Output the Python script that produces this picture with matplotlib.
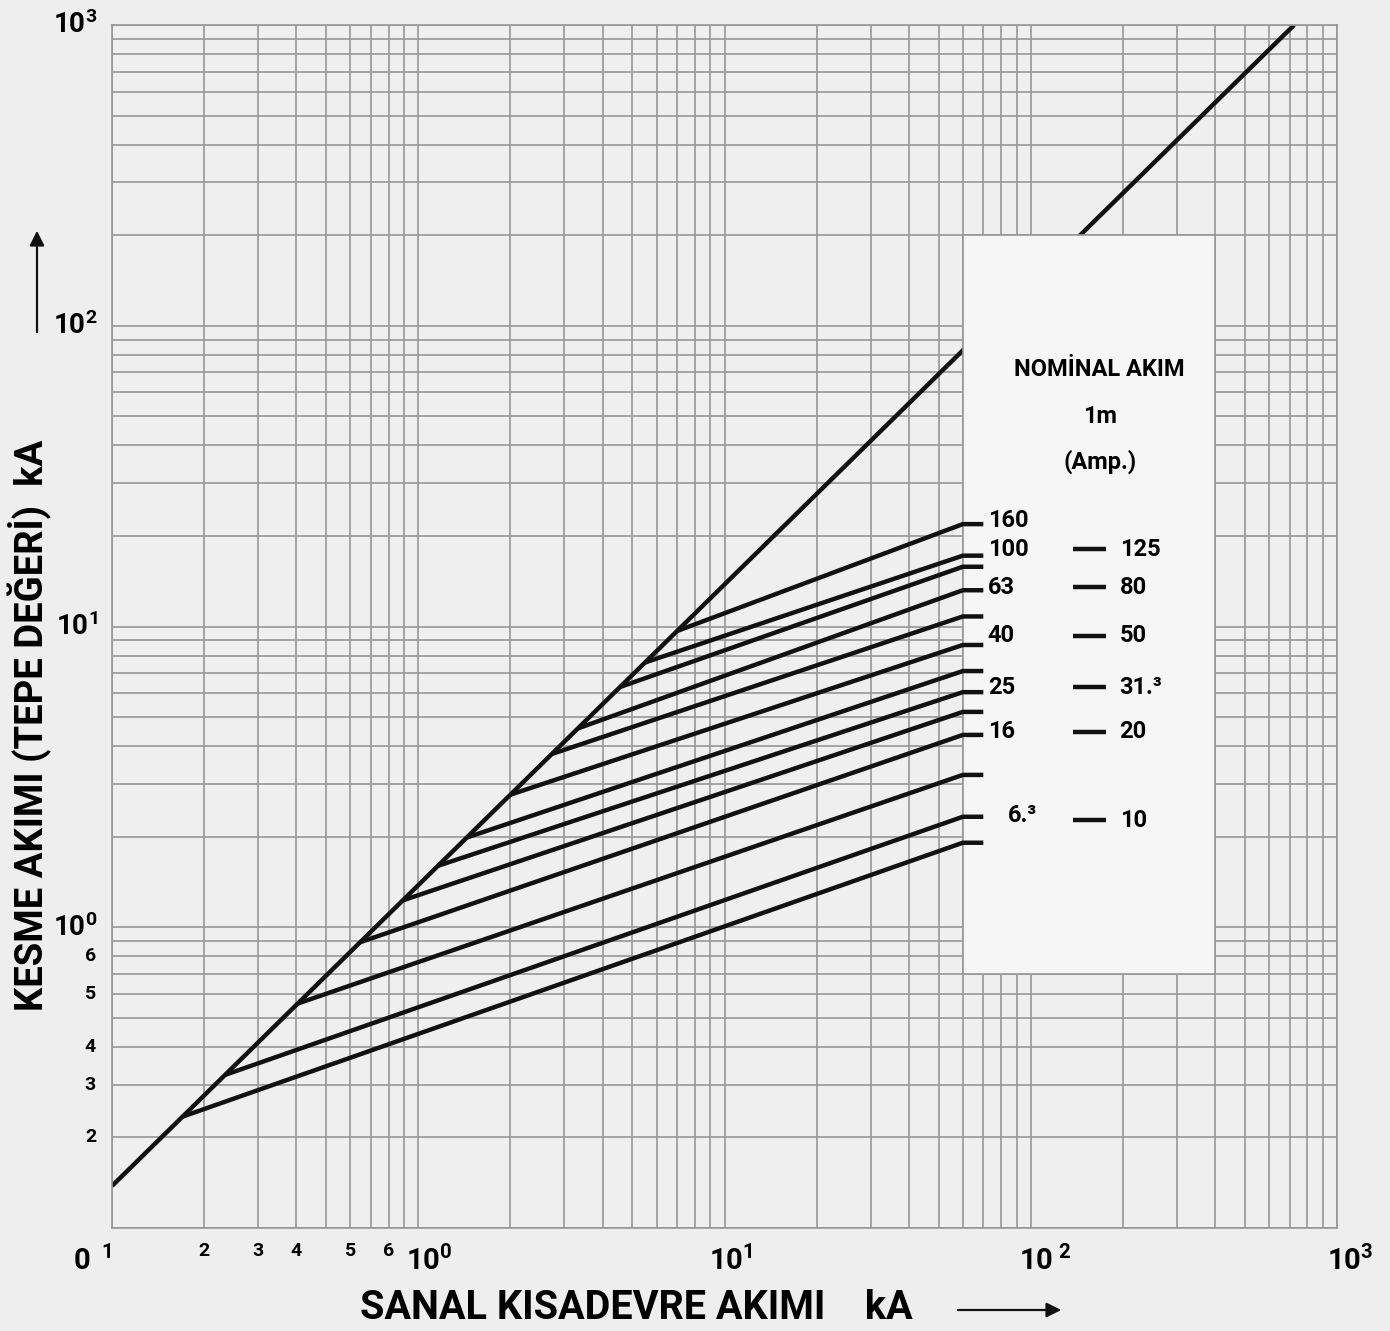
import numpy as np
import matplotlib
matplotlib.use('Agg')
from matplotlib import pyplot as plt
from matplotlib import ticker as ticker
from matplotlib.patches import Rectangle, FancyArrowPatch
import matplotlib.transforms as mtransforms

plt.rcParams['font.family'] = ['Roboto', 'DejaVu Sans']
plt.rcParams['font.weight'] = 'bold'
plt.rcParams['mathtext.fontset'] = 'custom'
plt.rcParams['mathtext.rm'] = 'Roboto:bold'
plt.rcParams['mathtext.it'] = 'Roboto:bold'
plt.rcParams['mathtext.bf'] = 'Roboto:bold'

# --- data -------------------------------------------------------------
# kesme akimi = k * sanal akim (no fuse)
k_diag = 1.38
diag_x = [0.1, 1000 / k_diag]

# fuse lines: knee on the diagonal, end value at 60 kA, flat stub to 70 kA
fuse_knee_x = [7.0, 5.5, 4.56, 3.32, 2.73, 2.0, 1.44, 1.16, 0.89, 0.646, 0.404, 0.234, 0.170]
fuse_end_y = [21.9, 17.2, 15.8, 13.2, 10.8, 8.68, 7.11, 6.05, 5.20, 4.36, 3.21, 2.33, 1.91]
end_x = [60, 70]

# legend box
box_x = [60, 400]
box_y = [0.7, 200]

col1_labels = ['160', '100', '63', '40', '25', '16', '6.³']
col1_x = [72.4, 72.4, 72.4, 72.4, 72.4, 72.4, 84]
col1_y = [22.6, 18.1, 13.5, 9.3, 6.29, 4.46, 2.36]
col2_labels = ['125', '80', '50', '31.³', '20', '10']
col2_y = [18.1, 13.5, 9.3, 6.29, 4.46, 2.27]
col2_dash_x = [137, 176]
col2_text_x = 195

# tick labels (placed as in the original sheet)
xlab_small = ['2', '3', '4', '5', '6']
xlab_small_x = [0.2, 0.3, 0.4, 0.6, 0.8]
xlab_big = [r'$10^{0}$', r'$10^{1}$', r'$10^{\ 2}$', r'$10^{3}$']
xlab_big_x = [0.91, 8.9, 91.6, 927]

ylab_small = ['6', '5', '4', '3', '2']
ylab_small_y = [0.8, 0.6, 0.4, 0.3, 0.2]
ylab_big = [r'$10^{3}$', r'$10^{2}$', r'$10^{1}$', r'$10^{0}$']
ylab_big_y = [1000, 100, 10, 1.0]

grid_col = '#979797'
line_col = '#111111'

fig = plt.figure(figsize=(13.9, 13.31), dpi=100)
fig.patch.set_facecolor('#eeeeee')
ax = fig.add_axes([112 / 1390, 103 / 1331, 1225 / 1390, 1203 / 1331])
ax.set_facecolor('#efefef')
ax.set_xscale('log')
ax.set_yscale('log')
ax.set_xlim(0.1, 1000)
ax.set_ylim(0.1, 1000)

# grid on every 1..9 of each decade
ax.xaxis.set_major_locator(ticker.NullLocator())
ax.yaxis.set_major_locator(ticker.NullLocator())
ax.xaxis.set_minor_locator(ticker.LogLocator(base=10, subs=np.arange(1, 10), numticks=50))
ax.yaxis.set_minor_locator(ticker.LogLocator(base=10, subs=np.arange(1, 10), numticks=50))
ax.xaxis.set_minor_formatter(ticker.NullFormatter())
ax.yaxis.set_minor_formatter(ticker.NullFormatter())
ax.tick_params(which='both', length=0)
ax.set_axisbelow(True)
ax.grid(which='minor', color=grid_col, lw=1.2)
for sp in ax.spines.values():
    sp.set_color(grid_col)
    sp.set_linewidth(1.2)

# diagonal (hidden by the box)
ax.plot(diag_x, [k_diag * v for v in diag_x], color=line_col, lw=3.2, zorder=1.5,
        solid_capstyle='butt')

ax.add_patch(Rectangle((box_x[0], box_y[0]), box_x[1] - box_x[0], box_y[1] - box_y[0],
                       facecolor='#f6f6f6', edgecolor=grid_col, lw=1.2, zorder=2))

for kx, ey in zip(fuse_knee_x, fuse_end_y):
    ax.plot([kx, end_x[0], end_x[1]], [k_diag * kx, ey, ey], color=line_col, lw=3.2,
            zorder=3, solid_capstyle='butt', solid_joinstyle='round')

# box texts
ax.text(168, 71.3, 'NOMİNAL AKIM', ha='center', va='center', fontsize=17, zorder=4)
ax.text(168, 49.8, '1m', ha='center', va='center', fontsize=17, zorder=4)
ax.text(168, 35.2, '(Amp.)', ha='center', va='center', fontsize=17, zorder=4)
for lab, x, y in zip(col1_labels, col1_x, col1_y):
    ax.text(x, y, lab, ha='left', va='center', fontsize=17, zorder=4)
for lab, y in zip(col2_labels, col2_y):
    ax.plot(col2_dash_x, [y, y], color=line_col, lw=3.2, zorder=3, solid_capstyle='butt')
    ax.text(col2_text_x, y, lab, ha='left', va='center', fontsize=17, zorder=4)

# tick labels
tx = mtransforms.blended_transform_factory(ax.transData, ax.transAxes)
ty = mtransforms.blended_transform_factory(ax.transAxes, ax.transData)
for lab, x in zip(xlab_small, xlab_small_x):
    ax.text(x, -0.023, lab, transform=tx, ha='center', va='baseline', fontsize=14)
for lab, x in zip(xlab_big, xlab_big_x):
    ax.text(x, -0.035, lab, transform=tx, ha='left', va='baseline', fontsize=21)
ax.text(0.1, -0.035, r'$0^{\ \ 1}$', transform=tx, ha='right', va='baseline', fontsize=21)
for lab, y in zip(ylab_small, ylab_small_y):
    ax.text(-0.013, y, lab, transform=ty, ha='right', va='center', fontsize=14)
for lab, y in zip(ylab_big, ylab_big_y):
    ax.text(-0.012, y, lab, transform=ty, ha='right', va='center', fontsize=20)

# axis titles
fig.text(30 / 1390, 1 - 725 / 1331, 'KESME AKIMI (TEPE DEĞERİ)  kA', rotation=90,
         ha='center', va='center', fontsize=27.5)
fig.text(636 / 1390, 1 - 1308 / 1331, 'SANAL KISADEVRE AKIMI    kA',
         ha='center', va='center', fontsize=28.5)

# arrows
fig.add_artist(FancyArrowPatch(
    (37 / 1390, 1 - 335 / 1331), (37 / 1390, 1 - 228 / 1331), transform=fig.transFigure,
    arrowstyle='-|>', mutation_scale=22, color=line_col, lw=1.6))
fig.add_artist(FancyArrowPatch(
    (955 / 1390, 1 - 1310 / 1331), (1064 / 1390, 1 - 1310 / 1331), transform=fig.transFigure,
    arrowstyle='-|>', mutation_scale=22, color=line_col, lw=1.6))

fig.savefig('out.png', dpi=100, facecolor=fig.get_facecolor())
